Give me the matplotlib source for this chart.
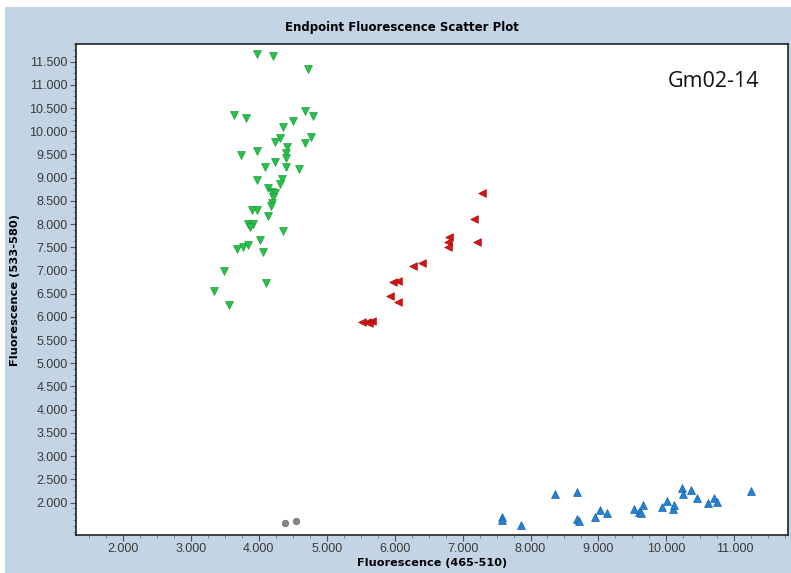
import numpy as np
import matplotlib
matplotlib.use("Agg")
import matplotlib.pyplot as plt
from matplotlib.ticker import MultipleLocator, FuncFormatter
from matplotlib.patches import Rectangle

# allele 2 cluster (green, triangle down)
green_x = [3978, 4205, 4729, 3639, 3807, 4685, 4794, 4504, 4352, 4313, 4235, 4769,
           4685, 4416, 4401, 4401, 3738, 3974, 4239, 4397, 4092, 4597, 3978, 4342,
           4313, 4140, 4190, 4239, 4205, 4190, 4180, 3896, 3969, 4140, 3846, 3919,
           3871, 4352, 3675, 3763, 3846, 4018, 4058, 3488, 4106, 3340, 3561]
green_y = [11665, 11628, 11335, 10345, 10293, 10437, 10330, 10215, 10099, 9849, 9776, 9871,
           9754, 9655, 9539, 9418, 9489, 9576, 9345, 9237, 9237, 9188, 8951, 8966,
           8865, 8772, 8699, 8664, 8578, 8449, 8391, 8305, 8305, 8176, 8003, 8003,
           7945, 7859, 7458, 7501, 7551, 7659, 7407, 6997, 6726, 6566, 6258]

# heterozygous cluster (red, triangle left)
red_x = [7284, 7170, 6806, 6792, 6783, 7219, 6267, 6400, 5982, 6051, 5933, 6055,
         5520, 5590, 5663, 5620]
red_y = [8664, 8111, 7730, 7622, 7501, 7609, 7105, 7157, 6760, 6775, 6459, 6330,
         5892, 5899, 5920, 5870]

# allele 1 cluster (blue, triangle up)
blue_x = [7578, 7578, 7863, 8363, 8677, 8677, 8721, 8942, 9026, 9125, 9527, 9590,
          9620, 9655, 9935, 10009, 10091, 10106, 10234, 10244, 10367, 10451, 10617,
          10695, 10745, 11246]
blue_y = [1698, 1627, 1513, 2187, 2237, 1649, 1612, 1698, 1828, 1772, 1864, 1806,
          1780, 1950, 1914, 2037, 1858, 1950, 2310, 2187, 2274, 2108, 1987,
          2095, 2009, 2258]

# no template controls (gray)
ntc_x = [4391, 4544]
ntc_y = [1569, 1591]

bg = "#c3d4e5"
fig = plt.figure(figsize=(7.91, 5.73), dpi=100, facecolor=bg)
# white border at top and left like the screenshot
fig.patches.append(Rectangle((0, 1 - 7 / 573), 1, 7 / 573, transform=fig.transFigure,
                             facecolor="white", edgecolor="none", zorder=0))
fig.patches.append(Rectangle((0, 0), 5 / 791, 1, transform=fig.transFigure,
                             facecolor="white", edgecolor="none", zorder=0))

ax = fig.add_axes([76 / 791, 1 - 535 / 573, 712 / 791, 491 / 573])
ax.set_facecolor("white")

ax.scatter(green_x, green_y, marker="v", s=32, color="#27c04a", edgecolors="#1c9e3a",
           linewidths=0.5, zorder=3)
ax.scatter(red_x, red_y, marker="<", s=30, color="#d81212", edgecolors="#a81010",
           linewidths=0.5, zorder=3)
ax.scatter(blue_x, blue_y, marker="^", s=32, color="#2282d4", edgecolors="#1a60a8",
           linewidths=0.5, zorder=3)
ax.scatter(ntc_x, ntc_y, marker="o", s=22, color="#858585", edgecolors="#707070",
           linewidths=0.5, zorder=3)

ax.set_xlim(1310, 11790)
ax.set_ylim(1300, 11880)

ax.xaxis.set_minor_locator(MultipleLocator(250))
ax.yaxis.set_minor_locator(MultipleLocator(125))
ax.set_xticks(np.arange(2000, 11001, 1000))
ax.set_yticks(np.arange(2000, 11501, 500))

fmt = FuncFormatter(lambda v, p: f"{v:,.0f}".replace(",", "."))
ax.xaxis.set_major_formatter(fmt)
ax.yaxis.set_major_formatter(fmt)

for lab in ax.get_xticklabels() + ax.get_yticklabels():
    lab.set_family("Liberation Sans")
ax.tick_params(axis="both", which="major", labelsize=9, labelcolor="#3a3a3a",
               color="#555555", length=4, width=0.8, direction="out", pad=2)
ax.tick_params(axis="both", which="minor", color="#777777", length=2, width=0.6,
               direction="out")

for sp in ax.spines.values():
    sp.set_color("#222222")
    sp.set_linewidth(1.2)

ax.set_xlabel("Fluorescence (465-510)", fontsize=8.1, fontweight="bold",
              family="DejaVu Sans", labelpad=2)
ax.set_ylabel("Fluorescence (533-580)", fontsize=8.2, fontweight="bold",
              family="DejaVu Sans", labelpad=7)

fig.text(402 / 791, 1 - 28 / 573, "Endpoint Fluorescence Scatter Plot", ha="center",
         va="center", fontsize=8.5, fontweight="bold", family="DejaVu Sans")

ax.text(0.896, 0.923, "Gm02-14", transform=ax.transAxes, ha="center", va="center",
        fontsize=15.5, family="Open Sans", color="#111111")

fig.savefig("out.png", dpi=100, facecolor=bg)
